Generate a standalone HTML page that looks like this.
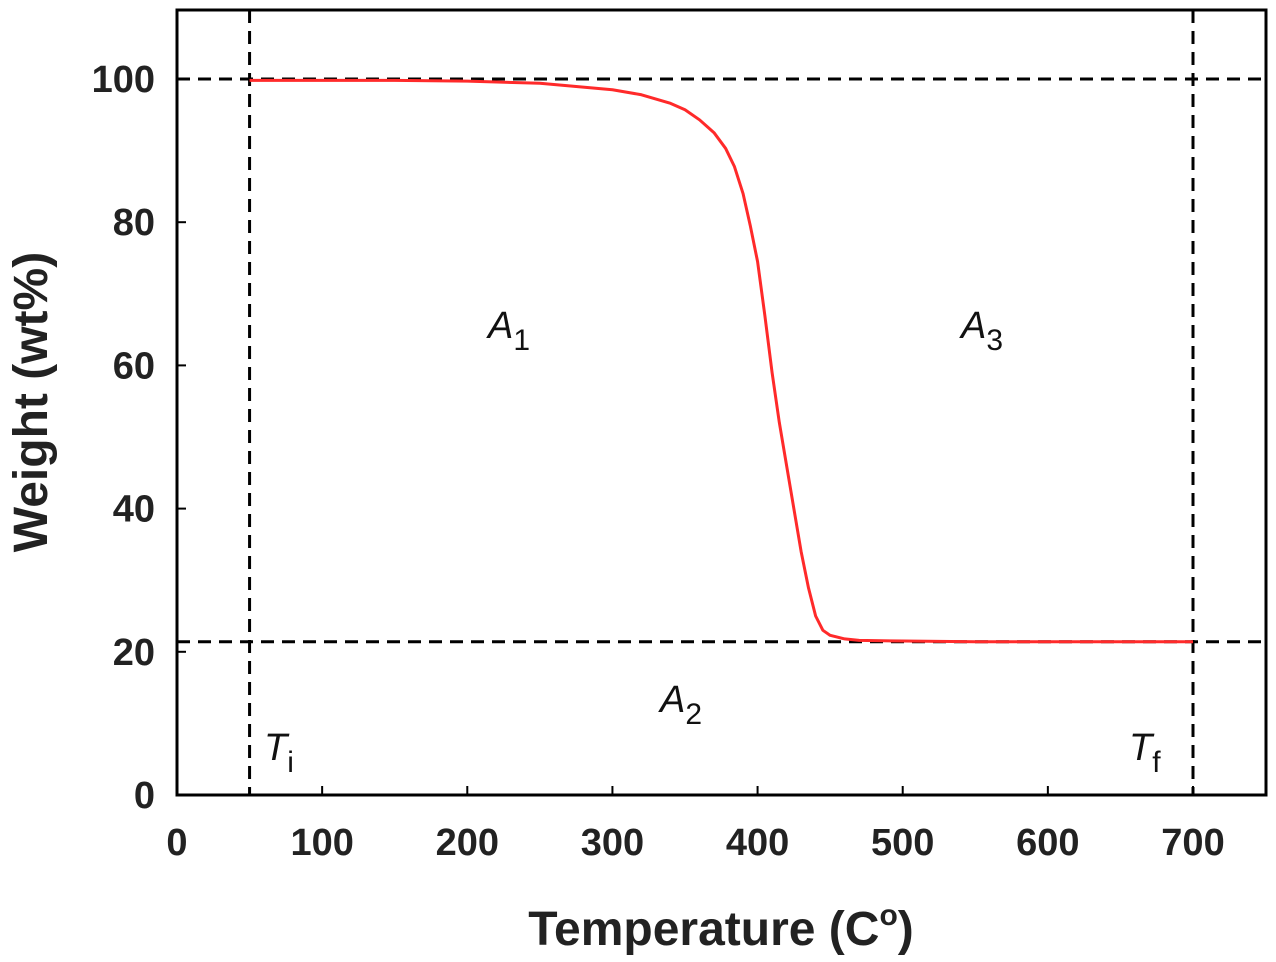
<!DOCTYPE html>
<html><head><meta charset="utf-8"><style>
html,body{margin:0;padding:0;background:#fff;}
svg{display:block;font-family:"Liberation Sans",Arial,sans-serif;}
</style></head><body>
<svg id="chart" width="1276" height="962" viewBox="0 0 1276 962">
<g id="grid"></g>
<g id="axes"></g>
<g id="series"></g>
<g id="labels"></g>
</svg>
<script>
const xTicks = [0,100,200,300,400,500,600,700];
const yTicks = [0,20,40,60,80,100];
const temps = [50,100,150,200,250,300,320,340,350,360,370,378,384,390,395,400,405,410,415,420,425,430,435,440,445,450,460,470,500,550,600,650,700];
const weights = [99.8,99.8,99.8,99.7,99.4,98.5,97.8,96.6,95.7,94.3,92.5,90.3,87.8,84,79.5,74.5,67,59,52,46,40,34,29,25,23,22.3,21.8,21.6,21.5,21.4,21.4,21.4,21.4];
const refY = [100,21.4];
const refX = [50,700];
const NS='http://www.w3.org/2000/svg';
const L=177,R=1266,T=10,B=795;
const X=v=>L+v*(1193-177)/700;
const Y=v=>B-v*(795-79)/100;
function mk(tag,attrs,parent){const e=document.createElementNS(NS,tag);for(const k in attrs)e.setAttribute(k,attrs[k]);parent.appendChild(e);return e;}
const axes=document.getElementById('axes'),grid=document.getElementById('grid'),series=document.getElementById('series'),labels=document.getElementById('labels');
const frame=mk('rect',{x:L,y:T,width:R-L,height:B-T,fill:'none',stroke:'#000','stroke-width':3},axes);


xTicks.forEach(v=>{
 const t=mk('line',{x1:X(v),x2:X(v),y1:B,y2:B-9,stroke:'#000','stroke-width':2},axes);
 
 
 const tx=mk('text',{x:X(v),y:B+60,'text-anchor':'middle','font-size':38,'font-weight':'bold',fill:'#222'},labels);
 tx.textContent=v;
 
 
});
yTicks.forEach(v=>{
 const t=mk('line',{x1:L,x2:L+9,y1:Y(v),y2:Y(v),stroke:'#000','stroke-width':2},axes);
 
 
 const tx=mk('text',{x:L-22,y:Y(v)+13,'text-anchor':'end','font-size':38,'font-weight':'bold',fill:'#222'},labels);
 tx.textContent=v;
 
 
});
refY.forEach(v=>{
 const l=mk('line',{x1:L,x2:R,y1:Y(v),y2:Y(v),stroke:'#000','stroke-width':3,'stroke-dasharray':'13,8'},grid);
 
 
});
refX.forEach(v=>{
 const l=mk('line',{x1:X(v),x2:X(v),y1:T,y2:B,stroke:'#000','stroke-width':3,'stroke-dasharray':'13,8'},grid);
 
 
});
const p=mk('polyline',{points:temps.map((t,i)=>X(t)+','+Y(weights[i])).join(' '),fill:'none',stroke:'#ff2a2a','stroke-width':3,'stroke-linejoin':'round'},series);


function lab(x,y,main,sub,name){
 const t=mk('text',{x:x,y:y,'font-size':38,'font-style':'italic',fill:'#111'},labels);
 t.innerHTML=main+'<tspan font-style="normal" font-size="30" dy="12">'+sub+'</tspan>';
 
 
}
lab(488,338,'A','1','label-a1');
lab(961,338,'A','3','label-a3');
lab(660,712,'A','2','label-a2');
lab(264,760,'T','i','label-ti');
lab(1129,760,'T','f','label-tf');
const xt=mk('text',{x:721,y:945,'text-anchor':'middle','font-size':48,'font-weight':'bold',fill:'#222'},labels);
xt.innerHTML='Temperature (C<tspan font-size="30" dy="-20">o</tspan><tspan dy="20">)</tspan>';


const yt=mk('text',{x:0,y:0,'text-anchor':'middle','font-size':48,'font-weight':'bold',fill:'#222',transform:'translate(47,402) rotate(-90)'},labels);
yt.textContent='Weight (wt%)';


</script>
</body></html>
